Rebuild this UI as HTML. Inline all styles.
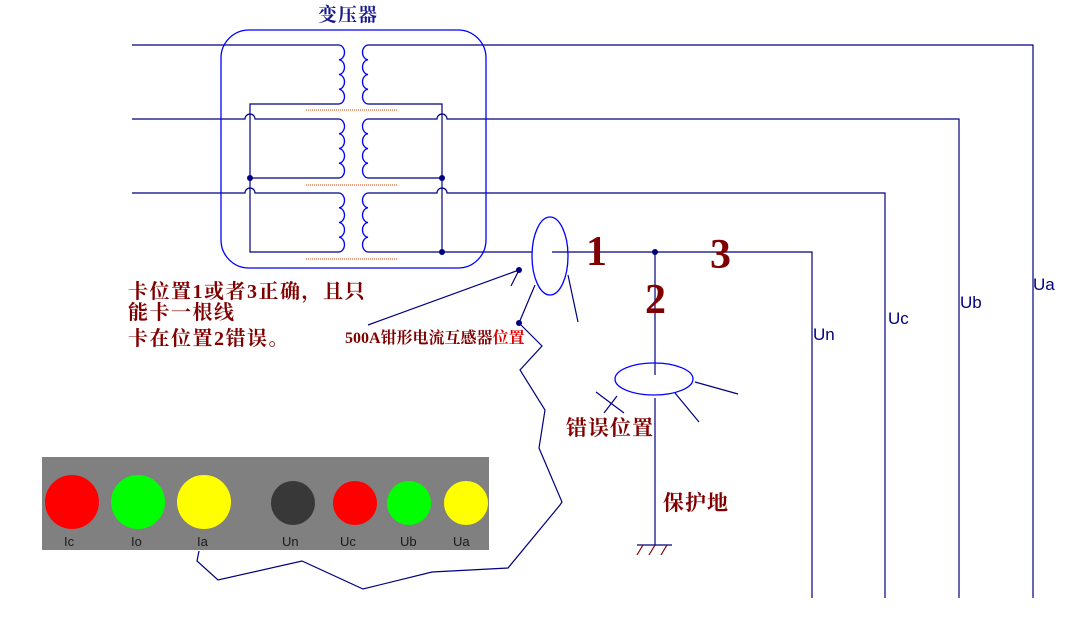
<!DOCTYPE html>
<html><head><meta charset="utf-8"><style>
html,body{margin:0;padding:0;background:#fff;width:1072px;height:629px;overflow:hidden}
text{font-family:"Liberation Serif","Noto Serif CJK SC",serif}
.cj{font-family:"Liberation Serif","Noto Serif CJK SC","WenQuanYi Zen Hei",serif;font-weight:bold}
.ls{font-family:"Liberation Sans",sans-serif}
</style></head><body>
<svg width="1072" height="629" xmlns="http://www.w3.org/2000/svg">
<g fill="none" stroke="#000080" stroke-width="1.2">
<path d="M132,45H339 M368,45H1033V598"/>
<path d="M132,119H245 a5,5 0 0 1 10,0 H339 M368,119H437 a5,5 0 0 1 10,0 H959V598"/>
<path d="M132,193H245 a5,5 0 0 1 10,0 H339 M368,193H437 a5,5 0 0 1 10,0 H885V598"/>
<path d="M339,104H250V252H339 M250,178H339"/>
<path d="M368,104H442V252 M368,178H442 M368,252H532 M552,252H812V598"/>
<path d="M655,252V375 M655,398V545 M637,545H672"/>
<path d="M643,545l-6,10 M655,545l-6,10 M667,545l-6,10" stroke="#800000"/>
<path d="M568,275L578,322 M535,285L519,323"/>
<path d="M368,325L519,270 M519,270L511,286"/>
<path d="M519,323L542,346L520,370L545,410L539,448L562,502L560,505L508,568L432,572L363,589L302,561L218,580L197,561L199,551"/>
<path d="M695,382L738,394 M675,393L699,422 M596,392L624,413 M604,413L617,396"/>
</g>
<g fill="#000080"><circle cx="250" cy="178" r="3"/><circle cx="442" cy="178" r="3"/><circle cx="442" cy="252" r="3"/><circle cx="655" cy="252" r="3"/><circle cx="519" cy="270" r="3"/><circle cx="519" cy="323" r="3"/></g>
<g fill="none" stroke="#0000ff" stroke-width="1.3">
<rect x="221" y="30" width="265" height="238" rx="28"/>
<ellipse cx="550" cy="256" rx="18" ry="39"/>
<ellipse cx="654" cy="379" rx="39" ry="16"/>
<path d="M339,45a6,7.4 0 0 1 0,14.75a6,7.4 0 0 1 0,14.75a6,7.4 0 0 1 0,14.75a6,7.4 0 0 1 0,14.75"/>
<path d="M339,119a6,7.4 0 0 1 0,14.75a6,7.4 0 0 1 0,14.75a6,7.4 0 0 1 0,14.75a6,7.4 0 0 1 0,14.75"/>
<path d="M339,193a6,7.4 0 0 1 0,14.75a6,7.4 0 0 1 0,14.75a6,7.4 0 0 1 0,14.75a6,7.4 0 0 1 0,14.75"/>
<path d="M368,45a6,7.4 0 0 0 0,14.75a6,7.4 0 0 0 0,14.75a6,7.4 0 0 0 0,14.75a6,7.4 0 0 0 0,14.75"/>
<path d="M368,119a6,7.4 0 0 0 0,14.75a6,7.4 0 0 0 0,14.75a6,7.4 0 0 0 0,14.75a6,7.4 0 0 0 0,14.75"/>
<path d="M368,193a6,7.4 0 0 0 0,14.75a6,7.4 0 0 0 0,14.75a6,7.4 0 0 0 0,14.75a6,7.4 0 0 0 0,14.75"/>
</g>
<g stroke="#f0a080" stroke-width="2" stroke-dasharray="1,1"><path d="M306,110H398 M306,185H398 M306,259H398"/></g>
<text x="318" y="21" class="cj" font-size="19" fill="#1a1a8a" letter-spacing="1">变压器</text>
<g fill="#000080" font-size="17">
<text x="1033" y="290" class="ls">Ua</text>
<text x="960" y="308" class="ls">Ub</text>
<text x="888" y="324" class="ls">Uc</text>
<text x="813" y="340" class="ls">Un</text>
</g>
<g fill="#800000" font-weight="bold" font-size="42">
<text x="586" y="265">1</text><text x="645" y="313">2</text><text x="710" y="268">3</text>
</g>
<g fill="#800000">
<text x="128" y="298" class="cj" font-size="20" letter-spacing="1.5">卡位置1或者3正确，且只</text>
<text x="128" y="319" class="cj" font-size="20" letter-spacing="1.5">能卡一根线</text>
<text x="128" y="345" class="cj" font-size="20" letter-spacing="1.5">卡在位置2错误。</text>
<text x="566" y="435" class="cj" font-size="21" letter-spacing="1">错误位置</text>
<text x="663" y="510" class="cj" font-size="21" letter-spacing="1">保护地</text>
<text x="345" y="343" class="cj" font-size="16">500A钳形电流互感器<tspan fill="#e00000">位置</tspan></text>
</g>
<rect x="42" y="457" width="447" height="93" fill="#808080"/>
<circle cx="72" cy="502" r="27" fill="#ff0000"/>
<circle cx="138" cy="502" r="27" fill="#00ff00"/>
<circle cx="204" cy="502" r="27" fill="#ffff00"/>
<circle cx="293" cy="503" r="22" fill="#383838"/>
<circle cx="355" cy="503" r="22" fill="#ff0000"/>
<circle cx="409" cy="503" r="22" fill="#00ff00"/>
<circle cx="466" cy="503" r="22" fill="#ffff00"/>
<g fill="#1a1a1a" font-size="13">
<text x="64" y="546" class="ls">Ic</text>
<text x="131" y="546" class="ls">Io</text>
<text x="197" y="546" class="ls">Ia</text>
<text x="282" y="546" class="ls">Un</text>
<text x="340" y="546" class="ls">Uc</text>
<text x="400" y="546" class="ls">Ub</text>
<text x="453" y="546" class="ls">Ua</text>
</g>
</svg>
</body></html>
